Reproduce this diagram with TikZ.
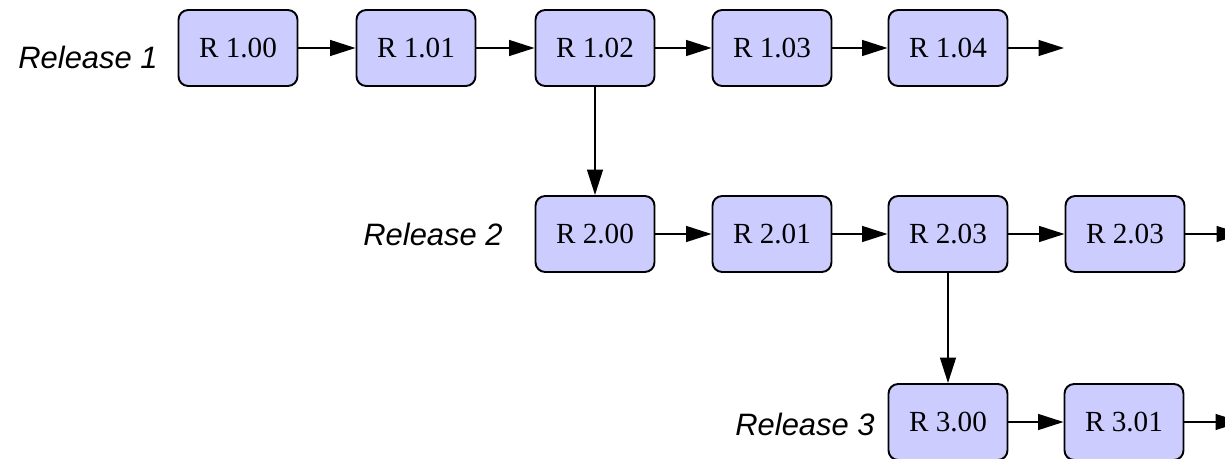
\documentclass[tikz,border=0pt]{standalone}
\usepackage{fontspec}
\setmainfont{Liberation Serif}
\newfontfamily\relfont{Liberation Sans}
\usetikzlibrary{arrows.meta}
\definecolor{boxblue}{HTML}{CCCCFF}
\begin{document}
\begin{tikzpicture}[x=0.02cm,y=-0.02cm,
    rel/.style={draw,line width=1.1pt,rounded corners=5.5pt,fill=boxblue,
        minimum width=2.38cm,minimum height=1.52cm,inner sep=0pt,
        font=\fontsize{16.6}{20}\selectfont},
    tag/.style={anchor=east,inner sep=0pt,font=\relfont\itshape\fontsize{17.6}{21}\selectfont},
    nxt/.style={line width=1.1pt,-{Triangle[length=14.5pt,width=9pt]}}]
            \clip (0,0) rectangle (1225,459);
            \useasboundingbox (0,0) rectangle (1225,459);
            \node[tag] (rel1) at (158,57) {Release 1};
            \node[tag] (rel2) at (503,234) {Release 2};
            \node[tag] (rel3) at (875,424) {Release 3};
            \node[rel] (r100) at (238,48) {R 1.00};
            \node[rel] (r101) at (416,48) {R 1.01};
            \node[rel] (r102) at (595,48) {R 1.02};
            \node[rel] (r103) at (772,48) {R 1.03};
            \node[rel] (r104) at (948,48) {R 1.04};
            \node[rel] (r200) at (595,234) {R 2.00};
            \node[rel] (r201) at (772,234) {R 2.01};
            \node[rel] (r203) at (948,234) {R 2.03};
            \node[rel] (r203b) at (1125,234) {R 2.03};
            \node[rel] (r300) at (948,422) {R 3.00};
            \node[rel] (r301) at (1124,422) {R 3.01};
            \coordinate (end1) at (1064,48);
            \coordinate (end2) at (1242,234);
            \coordinate (end3) at (1241,422);
            \draw[nxt] (r100) -- (r101);
            \draw[nxt] (r101) -- (r102);
            \draw[nxt] (r102) -- (r103);
            \draw[nxt] (r103) -- (r104);
            \draw[nxt] (r104) -- (end1);
            \draw[nxt] (r102) -- (r200);
            \draw[nxt] (r200) -- (r201);
            \draw[nxt] (r201) -- (r203);
            \draw[nxt] (r203) -- (r203b);
            \draw[nxt] (r203b) -- (end2);
            \draw[nxt] (r203) -- (r300);
            \draw[nxt] (r300) -- (r301);
            \draw[nxt] (r301) -- (end3);
\end{tikzpicture}
\end{document}
